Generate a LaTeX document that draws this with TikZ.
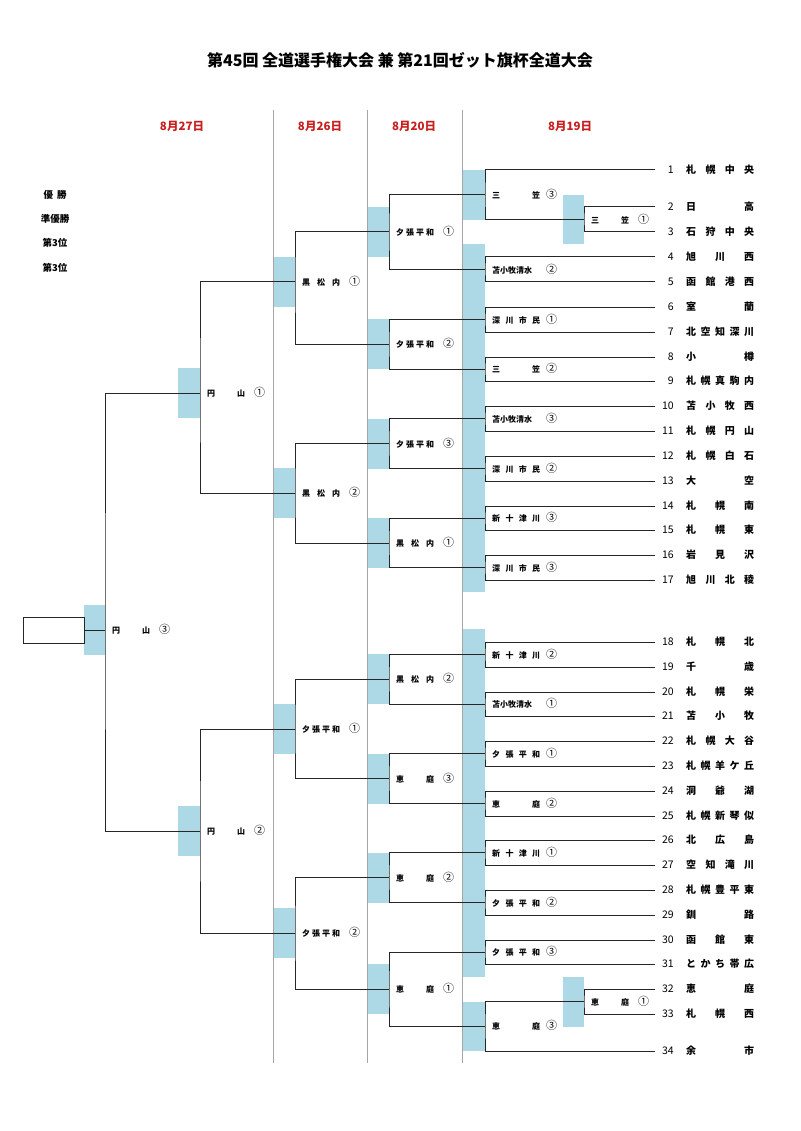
\documentclass[tikz,border=0pt]{standalone}
\usepackage{fontspec}
\setmainfont{Noto Sans CJK JP}
\definecolor{boxblue}{RGB}{173,216,230}
\definecolor{datered}{RGB}{200,30,30}
\newcommand\wa[2]{\makebox[48pt][s]{#1}\hspace{6pt}{\fontsize{11}{12}\selectfont\mdseries #2}}
\newcommand\wb[2]{\makebox[38pt][s]{#1}\hspace{9pt}{\fontsize{11}{12}\selectfont\mdseries #2}}
\tikzset{
  bar/.style={draw=black!85, line width=1pt},
  lbl/.style={anchor=west, inner sep=0pt, xshift=7pt, yshift=0.5pt, font=\fontsize{8}{9}\selectfont\bfseries},
  num/.style={anchor=east, inner sep=0pt, font=\fontsize{10.5}{12}\selectfont},
  team/.style={anchor=west, inner sep=0pt, font=\fontsize{10}{12}\selectfont\bfseries},
  date/.style={text=datered, font=\fontsize{11.5}{13}\selectfont\bfseries},
  place/.style={font=\fontsize{9.5}{11}\selectfont\bfseries},
}
\begin{document}
\begin{tikzpicture}[x=1pt,y=-1pt]
\useasboundingbox (0,0) rectangle (800,1131);
% blue shading
\fill[boxblue] (462,170) rectangle (485,220);
\fill[boxblue] (462,244) rectangle (485,592);
\fill[boxblue] (462,629) rectangle (485,977);
\fill[boxblue] (462,1002) rectangle (485,1051);
\fill[boxblue] (563,195) rectangle (584,244);
\fill[boxblue] (563,977) rectangle (584,1027);
\foreach \y in {232,344,443.5,543,679,778.5,877.5,989}
  \fill[boxblue] (367,\y-25) rectangle (389,\y+25);
\foreach \y in {282,493,729,933}
  \fill[boxblue] (273,\y-25) rectangle (295,\y+25);
\foreach \y in {393,831}
  \fill[boxblue] (178,\y-25) rectangle (200,\y+25);
\fill[boxblue] (84,605) rectangle (105,655);
% day rules
\foreach \x in {273,367,462}
  \draw[black!35, line width=1pt] (\x,110) -- (\x,1063);
% title and dates
\node (title) at (400,60) {\fontsize{16}{19}\selectfont\bfseries 第45回 全道選手権大会 兼 第21回ゼット旗杯全道大会};
\node[date] (d27) at (182,126) {8月27日};
\node[date] (d26) at (320,126) {8月26日};
\node[date] (d20) at (414,126) {8月20日};
\node[date] (d19) at (570,126) {8月19日};
\node[place] (p1) at (55,195) {優\hspace{4pt}勝};
\node[place] (p2) at (55,219) {準優勝};
\node[place] (p3) at (55,243) {第3位};
\node[place] (p4) at (55,268) {第3位};
% teams
\foreach \i/\y/\n in {1/170/札 幌 中 央,2/207/日 高,3/232/石 狩 中 央,4/257/旭 川 西,5/282/函 館 港 西,
  6/307/室 蘭,7/332/北 空 知 深 川,8/357/小 樽,9/381/札 幌 真 駒 内,10/406/苫 小 牧 西,
  11/431/札 幌 円 山,12/456/札 幌 白 石,13/481/大 空,14/506/札 幌 南,15/530/札 幌 東,
  16/555/岩 見 沢,17/580/旭 川 北 稜,18/642/札 幌 北,19/667/千 歳,20/692/札 幌 栄,
  21/716/苫 小 牧,22/741/札 幌 大 谷,23/766/札 幌 羊 ケ 丘,24/791/洞 爺 湖,25/816/札 幌 新 琴 似,
  26/840/北 広 島,27/865/空 知 滝 川,28/890/札 幌 豊 平 東,29/915/釧 路,30/940/函 館 東,
  31/964/と か ち 帯 広,32/989/恵 庭,33/1014/札 幌 西,34/1051/余 市} {
  \coordinate (e\i) at (655,\y);
  \node[num] (n\i) at (674,\y) {\i};
  \node[team] (t\i) at (686,\y) {\makebox[68pt][s]{\n}};
}
% first games
\coordinate (m23) at (584,219.5);
\coordinate (m0123) at (485,195);
\foreach \a/\b/\y in {4/5/269.5,6/7/319.5,8/9/369,10/11/418.5,12/13/468.5,14/15/518,16/17/567.5,
  18/19/654.5,20/21/704,22/23/753.5,24/25/803.5,26/27/852.5,28/29/902.5,30/31/952}
  \coordinate (m\a\b) at (485,\y);
\coordinate (m3233) at (584,1001.5);
\coordinate (m3234) at (485,1026);
\draw[bar] (e2) -| (m23) |- (e3);
\draw[bar] (e1) -| (m0123) |- (m23);
\foreach \a/\b in {4/5,6/7,8/9,10/11,12/13,14/15,16/17,18/19,20/21,22/23,24/25,26/27,28/29,30/31}
  \draw[bar] (e\a) -| (m\a\b) |- (e\b);
\draw[bar] (e32) -| (m3233) |- (e33);
\draw[bar] (m3233) -| (m3234) |- (e34);
% second round
\coordinate (q1) at (389,232);
\coordinate (q2) at (389,344);
\coordinate (q3) at (389,443.5);
\coordinate (q4) at (389,543);
\coordinate (q5) at (389,679);
\coordinate (q6) at (389,778.5);
\coordinate (q7) at (389,877.5);
\coordinate (q8) at (389,989);
\draw[bar] (m0123) -| (q1) |- (m45);
\draw[bar] (m67) -| (q2) |- (m89);
\draw[bar] (m1011) -| (q3) |- (m1213);
\draw[bar] (m1415) -| (q4) |- (m1617);
\draw[bar] (m1819) -| (q5) |- (m2021);
\draw[bar] (m2223) -| (q6) |- (m2425);
\draw[bar] (m2627) -| (q7) |- (m2829);
\draw[bar] (m3031) -| (q8) |- (m3234);
% third round
\coordinate (s1) at (295,282);
\coordinate (s2) at (295,493);
\coordinate (s3) at (295,729);
\coordinate (s4) at (295,933);
\draw[bar] (q1) -| (s1) |- (q2);
\draw[bar] (q3) -| (s2) |- (q4);
\draw[bar] (q5) -| (s3) |- (q6);
\draw[bar] (q7) -| (s4) |- (q8);
% semi finals and final
\coordinate (f1) at (200,393);
\coordinate (f2) at (200,831);
\draw[bar] (s1) -| (f1) |- (s2);
\draw[bar] (s3) -| (f2) |- (s4);
\coordinate (fin) at (105,630);
\draw[bar] (f1) -| (fin) |- (f2);
\node[draw=black!85, line width=1pt, minimum width=61pt, minimum height=26pt, inner sep=0pt] (champ) at (53.5,630) {};
\draw[bar] (champ) -- (fin);
% results
\node[lbl] (r23) at (m23) {\wb{三 笠}{①}};
\node[lbl] (r0123) at (m0123) {\wa{三 笠}{③}};
\node[lbl] (r45) at (m45) {\wa{苫小牧清水}{②}};
\node[lbl] (r67) at (m67) {\wa{深 川 市 民}{①}};
\node[lbl] (r89) at (m89) {\wa{三 笠}{②}};
\node[lbl] (r1011) at (m1011) {\wa{苫小牧清水}{③}};
\node[lbl] (r1213) at (m1213) {\wa{深 川 市 民}{②}};
\node[lbl] (r1415) at (m1415) {\wa{新 十 津 川}{③}};
\node[lbl] (r1617) at (m1617) {\wa{深 川 市 民}{③}};
\node[lbl] (r1819) at (m1819) {\wa{新 十 津 川}{②}};
\node[lbl] (r2021) at (m2021) {\wa{苫小牧清水}{①}};
\node[lbl] (r2223) at (m2223) {\wa{夕 張 平 和}{①}};
\node[lbl] (r2425) at (m2425) {\wa{恵 庭}{②}};
\node[lbl] (r2627) at (m2627) {\wa{新 十 津 川}{①}};
\node[lbl] (r2829) at (m2829) {\wa{夕 張 平 和}{②}};
\node[lbl] (r3031) at (m3031) {\wa{夕 張 平 和}{③}};
\node[lbl] (r3233) at (m3233) {\wb{恵 庭}{①}};
\node[lbl] (r3234) at (m3234) {\wa{恵 庭}{③}};
\node[lbl] (rq1) at (q1) {\wb{夕 張 平 和}{①}};
\node[lbl] (rq2) at (q2) {\wb{夕 張 平 和}{②}};
\node[lbl] (rq3) at (q3) {\wb{夕 張 平 和}{③}};
\node[lbl] (rq4) at (q4) {\wb{黒 松 内}{①}};
\node[lbl] (rq5) at (q5) {\wb{黒 松 内}{②}};
\node[lbl] (rq6) at (q6) {\wb{恵 庭}{③}};
\node[lbl] (rq7) at (q7) {\wb{恵 庭}{②}};
\node[lbl] (rq8) at (q8) {\wb{恵 庭}{①}};
\node[lbl] (rs1) at (s1) {\wb{黒 松 内}{①}};
\node[lbl] (rs2) at (s2) {\wb{黒 松 内}{②}};
\node[lbl] (rs3) at (s3) {\wb{夕 張 平 和}{①}};
\node[lbl] (rs4) at (s4) {\wb{夕 張 平 和}{②}};
\node[lbl] (rf1) at (f1) {\wb{円 山}{①}};
\node[lbl] (rf2) at (f2) {\wb{円 山}{②}};
\node[lbl] (rfin) at (fin) {\wb{円 山}{③}};
\end{tikzpicture}
\end{document}
